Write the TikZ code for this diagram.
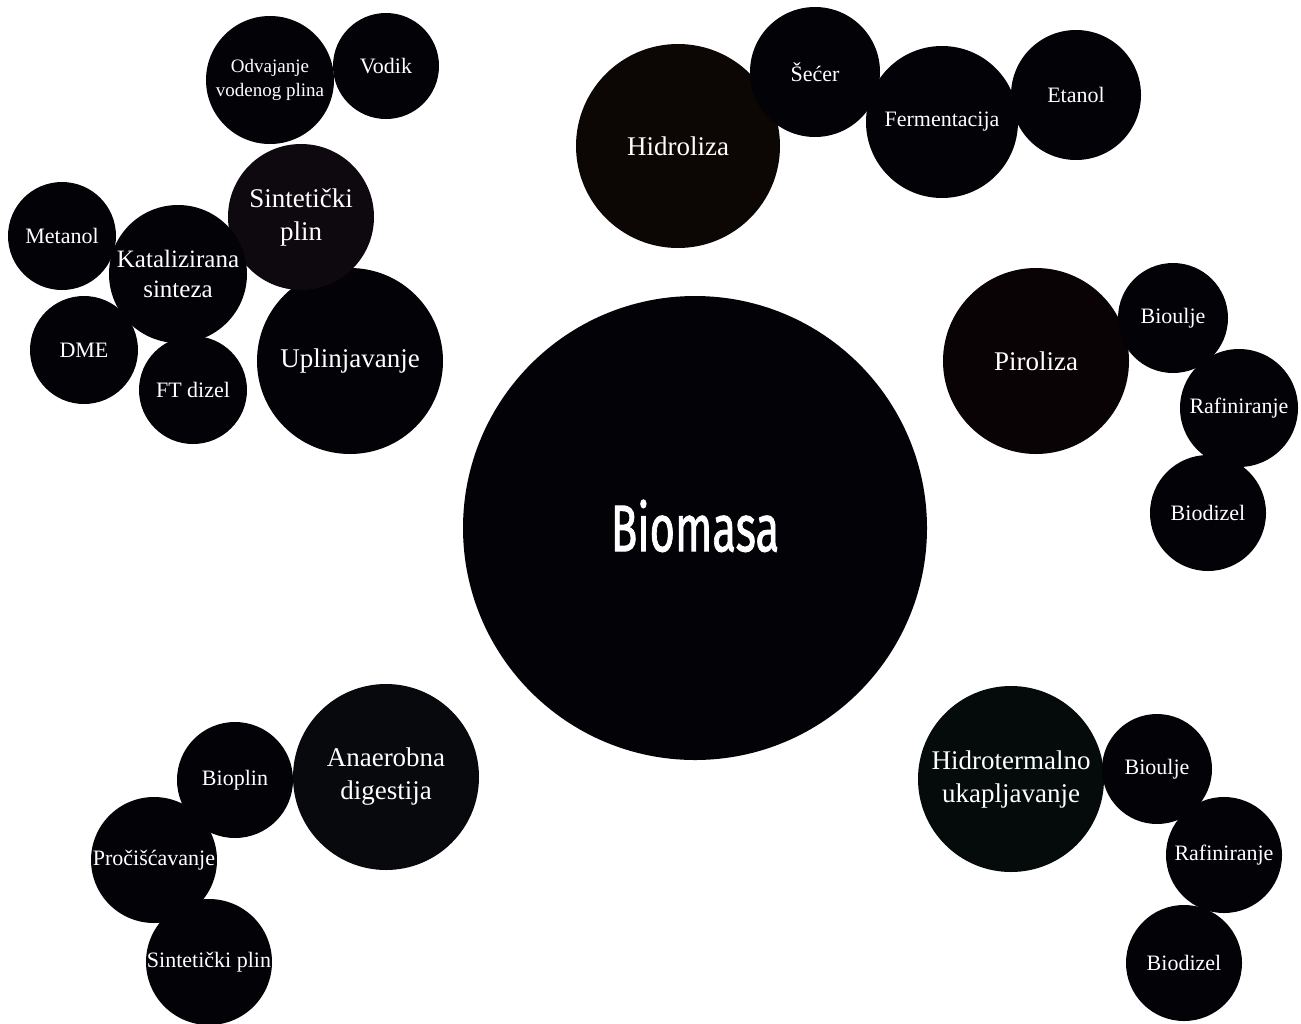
\documentclass[tikz,border=0pt]{standalone}
\usepackage{fontspec}
\setmainfont{Liberation Serif}
\newfontfamily\condfont{Fira Sans}[BoldFont={Fira Sans},BoldFeatures={FakeBold=1.5}]
\usetikzlibrary{positioning}

\definecolor{bubblebg}{RGB}{3,2,6}
\definecolor{hidrobg}{RGB}{12,6,4}
\definecolor{pirobg}{RGB}{10,3,5}
\definecolor{htlbg}{RGB}{5,10,10}
\definecolor{anaerobg}{RGB}{7,9,12}
\definecolor{syngasbg}{RGB}{14,9,14}

\tikzstyle{bubble} = [circle,fill=bubblebg,text=white,inner sep=0pt,align=center,font=\fontsize{22}{26}\selectfont]
\tikzstyle{bigbubble} = [bubble,font=\fontsize{27}{33}\selectfont]

\begin{document}
\begin{tikzpicture}[x=1pt,y=-1pt]
	\useasboundingbox (0,0) rectangle (1301,1023);
	% centre
	\node (biomasa) [bubble,minimum size=464] at (695,528) {\raisebox{5pt}{\condfont\bfseries\fontsize{66}{66}\selectfont\scalebox{0.66}[1]{Biomasa}}};
	% hidroliza
	\node (hidroliza) [bigbubble,fill=hidrobg,minimum size=204] at (678,146) {Hidroliza};
	\node (secer) [bubble,minimum size=130] at (815,72) {Šećer};
	\node (ferment) [bubble,minimum size=152] at (942,122) {Fermentacija};
	\node (etanol) [bubble,minimum size=130] at (1076,95) {Etanol};
	% piroliza
	\node (piroliza) [bigbubble,fill=pirobg,minimum size=186] at (1036,361) {Piroliza};
	\node (bioulje1) [bubble,minimum size=110] at (1173,318) {Bioulje};
	\node (rafin1) [bubble,minimum size=118] at (1239,408) {Rafiniranje};
	\node (biodizel1) [bubble,minimum size=116] at (1208,513) {Biodizel};
	% hidrotermalno ukapljavanje
	\node (htl) [bigbubble,fill=htlbg,minimum size=186] at (1011,779) {Hidrotermalno\\ukapljavanje};
	\node (bioulje2) [bubble,minimum size=110] at (1157,769) {Bioulje};
	\node (rafin2) [bubble,minimum size=116] at (1224,855) {Rafiniranje};
	\node (biodizel2) [bubble,minimum size=116] at (1184,963) {Biodizel};
	% anaerobna digestija
	\node (anaerob) [bigbubble,fill=anaerobg,minimum size=186] at (386,777) {Anaerobna\\digestija};
	\node (bioplin) [bubble,minimum size=116] at (235,780) {Bioplin};
	\node (procisc) [bubble,minimum size=126] at (154,860) {Pročišćavanje};
	\node (singas2) [bubble,minimum size=126] at (209,962) {Sintetički plin};
	% uplinjavanje
	\node (uplin) [bigbubble,minimum size=186] at (350,361) {Uplinjavanje};
	\node (singas1) [bigbubble,fill=syngasbg,minimum size=146] at (301,217) {Sintetički\\plin};
	\node (kataliz) [bubble,font=\fontsize{25}{30}\selectfont,minimum size=138] at (178,274) {Katalizirana\\sinteza};
	\node (metanol) [bubble,minimum size=108] at (62,236) {Metanol};
	\node (dme) [bubble,minimum size=108] at (84,350) {DME};
	\node (ftdizel) [bubble,minimum size=108] at (193,390) {FT dizel};
	\node (odvaj) [bubble,font=\fontsize{19}{24}\selectfont,minimum size=128] at (270,80) {Odvajanje\\vodenog plina};
	\node (vodik) [bubble,minimum size=106] at (386,66) {Vodik};
\end{tikzpicture}
\end{document}
